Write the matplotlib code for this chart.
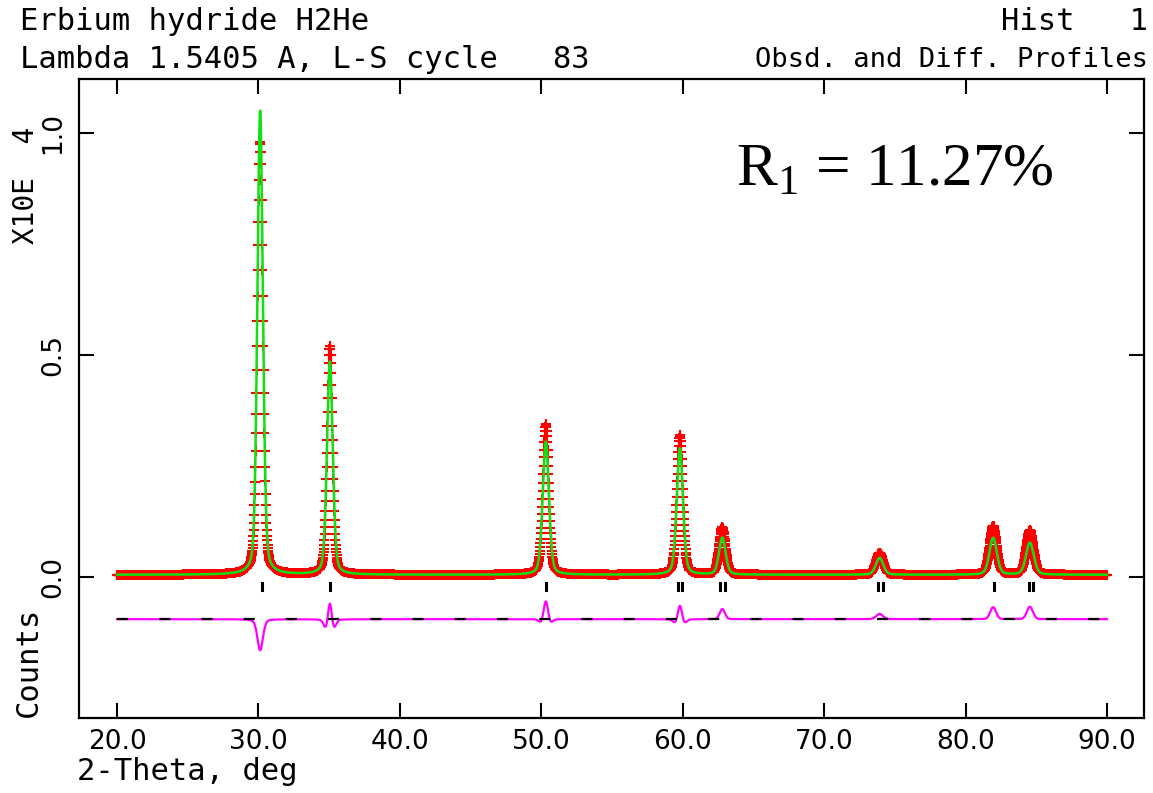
import numpy as np
import matplotlib.pyplot as plt

# peak table (2-theta in deg, counts in units of 10^4)
peak_pos = [30.12, 35.05, 50.32, 59.80, 62.80, 73.92, 81.95, 84.55]
calc_height = [1.045, 0.480, 0.300, 0.285, 0.083, 0.038, 0.083, 0.072]
obs_height = [0.975, 0.515, 0.340, 0.315, 0.106, 0.050, 0.110, 0.100]
calc_fwhm = [0.46, 0.48, 0.52, 0.52, 0.55, 0.62, 0.62, 0.65]
obs_fwhm = [0.46, 0.44, 0.48, 0.48, 0.52, 0.60, 0.58, 0.60]
background = 0.005

# reflection markers below the profile
refl_pos = [30.25, 35.06, 50.33, 59.67, 59.95, 62.64, 62.99, 73.81, 74.16, 82.01, 84.48, 84.77]

tt_start, tt_end, tt_step = 20.0, 90.0, 0.02
diff_offset = -0.095

x_ticks = [20, 30, 40, 50, 60, 70, 80, 90]
x_ticklabels = ['20.0', '30.0', '40.0', '50.0', '60.0', '70.0', '80.0', '90.0']
y_ticks = [0.0, 0.5, 1.0]
y_ticklabels = ['0.0', '0.5', '1.0']


def pseudo_voigt(tt, pos, fwhm, eta=0.3):
    d = (tt - pos) / fwhm
    gauss = np.exp(-4 * np.log(2) * d ** 2)
    lorentz = 1.0 / (1.0 + 4 * d ** 2)
    return eta * lorentz + (1 - eta) * gauss


def profile(tt, heights, widths):
    y = np.full_like(tt, background)
    for p, h, w in zip(peak_pos, heights, widths):
        y += h * pseudo_voigt(tt, p, w)
    return y


tt = np.arange(tt_start, tt_end + tt_step / 2, tt_step)
y_calc = profile(tt, calc_height, calc_fwhm)
y_obs = profile(tt, obs_height, obs_fwhm)
y_diff = y_obs - y_calc + diff_offset

W, H = 1153, 793
fig = plt.figure(figsize=(W / 100, H / 100), dpi=100)
ax = fig.add_axes([79 / W, 1 - 718 / H, (1144 - 79) / W, (718 - 79) / H])

font = 'DejaVu Sans'
mono = 'DejaVu Sans Mono'
fs = 19

# observed points, calculated line, difference
ax.plot(tt, y_obs, linestyle='none', marker='+', color='#ff0000', markersize=7.5, mew=1.5, zorder=2)
ax.plot(tt, y_calc, color='#10e010', lw=1.8, zorder=3)
ax.plot(tt, y_diff, color='#ff00ff', lw=1.6, zorder=3)
ax.plot([tt_start, tt_end], [diff_offset, diff_offset], color='black', lw=1.6,
        dashes=(5, 14), zorder=4)

for r in refl_pos:
    ax.plot([r, r], [-0.014, -0.030], color='black', lw=2.2, zorder=4)

ax.set_xlim(17.31, 92.62)
ax.set_ylim(-0.3176, 1.1216)

ax.set_xticks(x_ticks)
ax.set_xticklabels(x_ticklabels, fontsize=fs, family=font)
ax.set_yticks(y_ticks)
ax.set_yticklabels(y_ticklabels, fontsize=fs, family=font, rotation=90, va='center')
ax.tick_params(axis='both', direction='in', length=11, width=1.5, top=True, right=True)
ax.tick_params(axis='x', pad=8)
ax.tick_params(axis='y', pad=9)
for s in ax.spines.values():
    s.set_linewidth(1.6)

# header and axis texts
hs = 22
fig.text(20 / W, 1 - 22 / H, 'Erbium hydride H2He', fontsize=hs, family=mono, va='center', ha='left')
fig.text(20 / W, 1 - 60 / H, 'Lambda 1.5405 A, L-S cycle   83', fontsize=hs, family=mono,
         va='center', ha='left')
fig.text(1148 / W, 1 - 22 / H, 'Hist   1', fontsize=hs, family=mono, va='center', ha='right')
fig.text(1148 / W, 1 - 60 / H, 'Obsd. and Diff. Profiles', fontsize=19.5, family=mono,
         va='center', ha='right')
fig.text(26 / W, 1 - 185 / H, 'X10E  4', fontsize=20, family=mono, rotation=90,
         va='center', ha='center')
fig.text(28 / W, 1 - 662 / H, 'Counts', fontsize=hs, family=mono, rotation=90,
         va='center', ha='center')
fig.text(77 / W, 1 - 772 / H, '2-Theta, deg', fontsize=hs, family=mono, va='center', ha='left')

plt.rcParams['mathtext.fontset'] = 'custom'
plt.rcParams['mathtext.rm'] = 'Liberation Serif'
fig.text(736 / W, 1 - 185 / H, r'R$_\mathregular{1}$ = 11.27%', fontsize=44,
         family='Liberation Serif', va='baseline', ha='left')

fig.savefig('out.png', dpi=100)
